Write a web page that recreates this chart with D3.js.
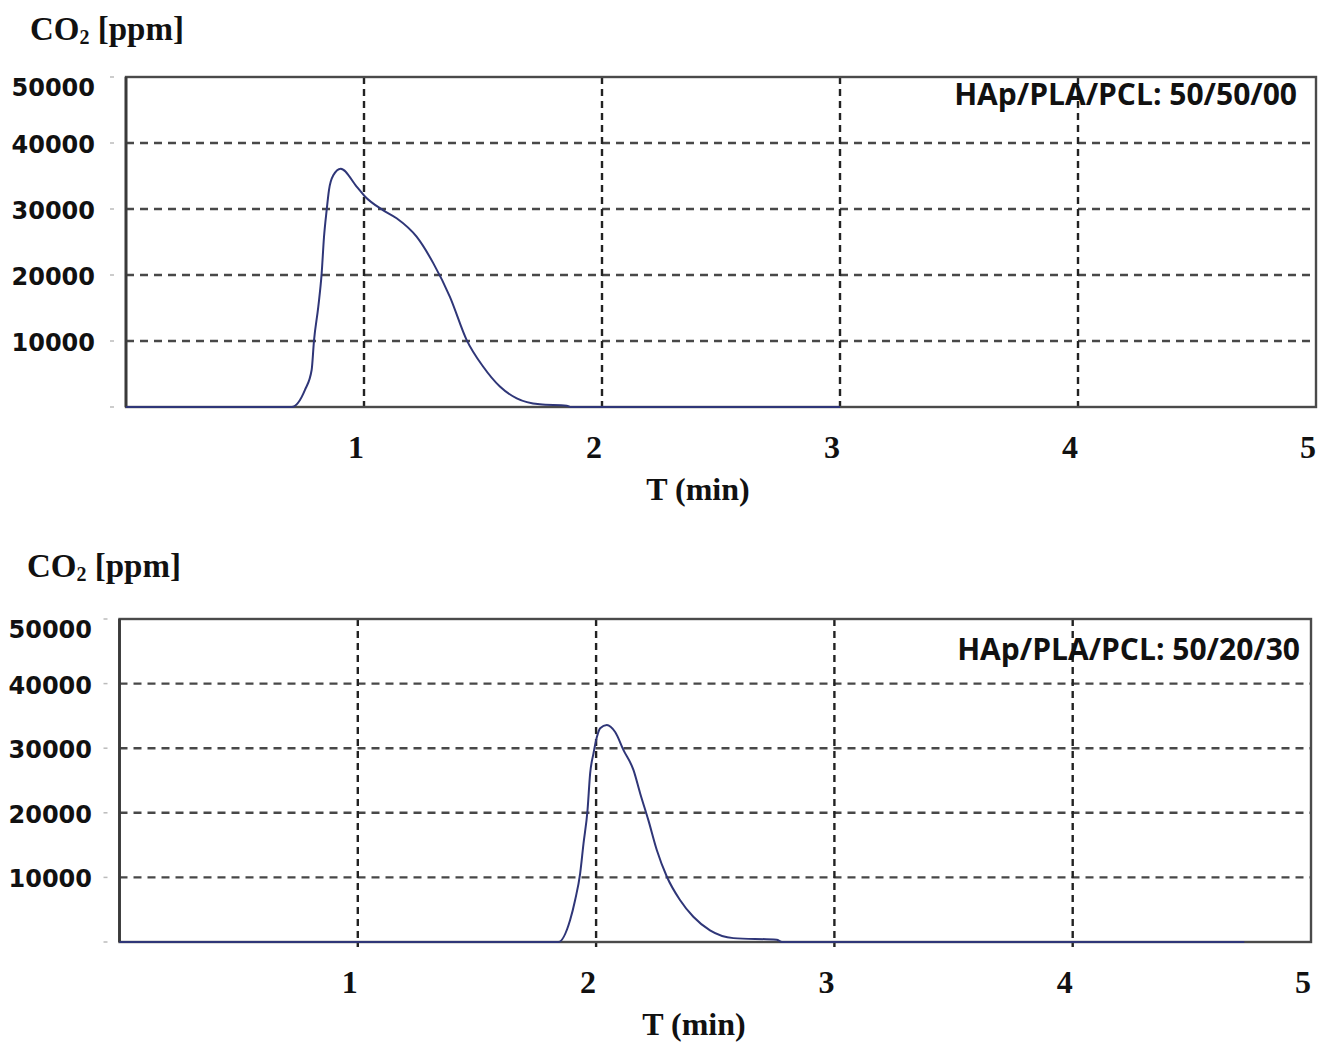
<!DOCTYPE html>
<html>
<head>
<meta charset="utf-8">
<script src="https://cdn.jsdelivr.net/npm/d3@7"></script>
<style>
  html, body { margin: 0; padding: 0; background: #fff; }
  svg { display: block; }
</style>
</head>
<body>
<svg id="chart" width="1331" height="1044"></svg>
<script>
// ---- Data ----
const xTicks = [1, 2, 3, 4, 5];
const yTicks = [10000, 20000, 30000, 40000, 50000];
const yTitle = "CO";
const xTitle = "T (min)";

// Panel A: HAp/PLA/PCL 50/50/00
const labelA = "HAp/PLA/PCL: 50/50/00";
const timeA = [0, 0.696, 0.752, 0.780, 0.790, 0.808, 0.822, 0.832, 0.843, 0.853, 0.871, 0.902, 0.969, 1.004, 1.081, 1.137, 1.221, 1.291, 1.361, 1.432, 1.501, 1.571, 1.642, 1.739, 1.852, 1.870, 3.0];
const co2A  = [0, 0, 2600, 5600, 10100, 15200, 20200, 25800, 29800, 32900, 35100, 36100, 33400, 31900, 29800, 28600, 25800, 21800, 16700, 10100, 6100, 3100, 1300, 400, 200, 0, 0];

// Panel B: HAp/PLA/PCL 50/20/30
const labelB = "HAp/PLA/PCL: 50/20/30";
const timeB = [0, 1.842, 1.891, 1.912, 1.933, 1.947, 1.964, 1.975, 1.989, 2.003, 2.017, 2.045, 2.080, 2.115, 2.157, 2.185, 2.219, 2.255, 2.297, 2.352, 2.408, 2.478, 2.576, 2.758, 2.780, 4.72];
const co2B  = [0, 0, 3400, 6500, 10600, 15200, 20400, 26100, 29200, 31700, 33100, 33600, 32500, 29700, 26600, 23000, 18900, 14200, 10100, 6500, 3900, 1800, 600, 350, 0, 0];

// ---- Layout ----
const panels = [
  { t: timeA, v: co2A, label: labelA, left: 126, right: 1316, top: 77, bottom: 407,
    yLabelX: 95, titleX: 30, titleY: 40, xTitleX: 698, annX: 1297, annDy: 28 },
  { t: timeB, v: co2B, label: labelB, left: 119.5, right: 1311, top: 619, bottom: 942,
    yLabelX: 92, titleX: 27, titleY: 577, xTitleX: 694, annX: 1300, annDy: 41 }
];

const svg = d3.select("#chart");
const lineColor = "#2f3678";

panels.forEach(p => {
  const x = d3.scaleLinear().domain([0, 5]).range([p.left, p.right]);
  const y = d3.scaleLinear().domain([0, 50000]).range([p.bottom, p.top]);
  const g = svg.append("g");

  // horizontal dashed grid
  g.selectAll("line.hgrid").data(yTicks.filter(d => d < 50000)).join("line")
    .attr("class", "hgrid")
    .attr("x1", p.left).attr("x2", p.right)
    .attr("y1", d => y(d)).attr("y2", d => y(d))
    .attr("stroke", "#484848").attr("stroke-width", 2.4)
    .attr("stroke-dasharray", "8,6");

  // small y tick marks left of axis
  g.selectAll("line.ytick").data([0].concat(yTicks)).join("line")
    .attr("x1", p.left - 16).attr("x2", p.left - 12)
    .attr("y1", d => y(d)).attr("y2", d => y(d))
    .attr("stroke", "#bbb").attr("stroke-width", 1.5);

  // vertical dashed grid
  g.selectAll("line.vgrid").data(xTicks.filter(d => d < 5)).join("line")
    .attr("class", "vgrid")
    .attr("x1", d => x(d)).attr("x2", d => x(d))
    .attr("y1", p.top).attr("y2", p.bottom + 5)
    .attr("stroke", "#222").attr("stroke-width", 2.4)
    .attr("stroke-dasharray", "7,5");

  // frame
  g.append("rect")
    .attr("x", p.left).attr("y", p.top)
    .attr("width", p.right - p.left).attr("height", p.bottom - p.top)
    .attr("fill", "none").attr("stroke", "#4a4a4a").attr("stroke-width", 2.4);
  g.append("line")
    .attr("x1", p.left).attr("x2", p.left).attr("y1", p.top).attr("y2", p.bottom)
    .attr("stroke", "#3a3a3a").attr("stroke-width", 2.8);

  // curve
  const pts = p.t.map((tt, i) => [tt, p.v[i]]);
  g.append("path")
    .datum(pts)
    .attr("fill", "none")
    .attr("stroke", lineColor)
    .attr("stroke-width", 2)
    .attr("stroke-linejoin", "round")
    .attr("d", d3.line().x(d => x(d[0])).y(d => y(d[1])).curve(d3.curveMonotoneX));

  // y tick labels
  g.selectAll("text.ylab").data(yTicks).join("text")
    .attr("x", p.yLabelX)
    .attr("y", d => Math.max(y(d) + 2, p.top + 11))
    .attr("text-anchor", "end")
    .attr("dominant-baseline", "central")
    .attr("font-family", "'DejaVu Sans', Verdana, sans-serif")
    .attr("font-weight", "bold")
    .attr("font-size", 24)
    .attr("fill", "#111")
    .text(d => d);

  // x tick labels
  g.selectAll("text.xlab").data(xTicks).join("text")
    .attr("x", d => x(d) - 8)
    .attr("y", p.bottom + 51)
    .attr("text-anchor", "middle")
    .attr("font-family", "'Liberation Serif', 'Times New Roman', serif")
    .attr("font-weight", "bold")
    .attr("font-size", 32)
    .attr("fill", "#111")
    .text(d => d);

  // x title
  g.append("text")
    .attr("x", p.xTitleX).attr("y", p.bottom + 93)
    .attr("text-anchor", "middle")
    .attr("font-family", "'Liberation Serif', 'Times New Roman', serif")
    .attr("font-weight", "bold")
    .attr("font-size", 32)
    .attr("fill", "#111")
    .text(xTitle);

  // y title CO2 [ppm]
  const yt = g.append("text")
    .attr("x", p.titleX).attr("y", p.titleY)
    .attr("font-family", "'Liberation Serif', 'Times New Roman', serif")
    .attr("font-weight", "bold")
    .attr("font-size", 33)
    .attr("fill", "#111");
  yt.append("tspan").text(yTitle);
  yt.append("tspan").attr("font-size", 20).attr("dy", 4).text("2");
  yt.append("tspan").attr("dy", -4).text(" [ppm]");

  // annotation
  g.append("text")
    .attr("x", p.annX).attr("y", p.top + p.annDy)
    .attr("text-anchor", "end")
    .attr("font-family", "'Open Sans', 'Noto Sans', sans-serif")
    .attr("font-weight", "bold")
    .attr("font-size", 30)
    .attr("fill", "#111")
    .text(p.label);
});
</script>
</body>
</html>
